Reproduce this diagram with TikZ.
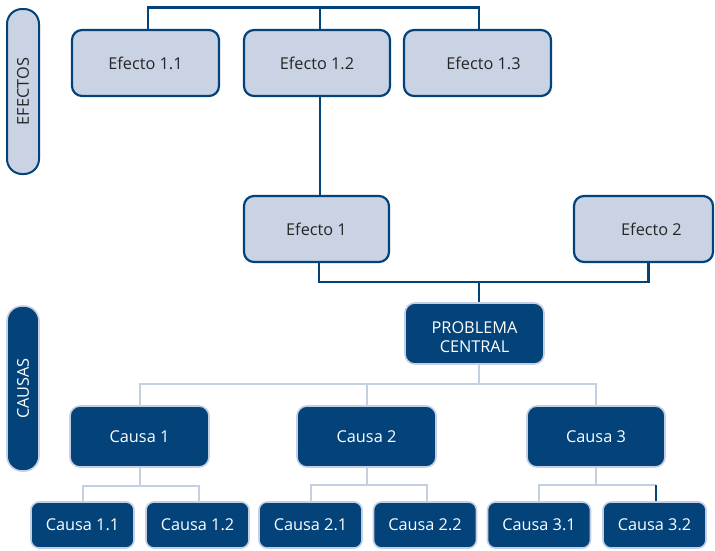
\documentclass[tikz,border=0pt]{standalone}
\usepackage{fontspec}
\setmainfont{Open Sans}
\usetikzlibrary{positioning}
\definecolor{dblue}{HTML}{03437A}
\definecolor{lfill}{HTML}{C9D3E4}
\definecolor{lline}{HTML}{C5CFE3}
\definecolor{dtext}{HTML}{262626}
\begin{document}
\begin{tikzpicture}[x=1pt,y=-1pt,
  txt/.style={font=\fontsize{16.3}{19}\selectfont},
  efbox/.style={txt,draw=dblue,line width=2.2pt,fill=lfill,rounded corners=10pt,text=dtext,inner sep=0pt,minimum height=66pt},
  cbox/.style={txt,draw=lline,line width=1.6pt,fill=dblue,rounded corners=10pt,text=white,inner sep=0pt,minimum width=139pt,minimum height=61pt},
  csub/.style={txt,draw=lline,line width=1.6pt,fill=dblue,rounded corners=8pt,text=white,inner sep=0pt,minimum width=103pt,minimum height=46pt},
  sidebar/.style={rounded corners=15pt,minimum width=32pt,minimum height=165pt,inner sep=0pt},
  dline/.style={draw=dblue,line width=2.4pt},
  lconn/.style={draw=lline,line width=2pt}]
\useasboundingbox (0,0) rectangle (715,550);
% side bars
\node[sidebar,draw=dblue,line width=2pt,fill=lfill] (ef) at (23,91.5) {};
\node[txt,rotate=90,text=dtext] (eft) at (ef.center) {EFECTOS};
\node[sidebar,draw=lline,line width=1.6pt,fill=dblue] (ca) at (23,388.5) {};
\node[txt,rotate=90,text=white] (cat) at (ca.center) {CAUSAS};
% effects
\node[efbox,minimum width=147pt] (e11) at (145.5,63) {Efecto 1.1};
\node[efbox,minimum width=146pt] (e12) at (317,63) {Efecto 1.2};
\node[efbox,minimum width=147pt] (e13) at (477.5,63) {\hspace{12pt}Efecto 1.3};
\node[efbox,minimum width=145pt] (e1) at (316.5,229) {Efecto 1};
\node[efbox,minimum width=139pt] (e2) at (643.5,229) {\hspace{16pt}Efecto 2};
% central problem
\node[cbox,align=center] (pc) at (474.5,333.5) {\rule{0pt}{20pt}PROBLEMA\\CENTRAL};
% causes
\node[cbox] (c1) at (139.5,436.5) {Causa 1};
\node[cbox] (c2) at (366.5,436.5) {Causa 2};
\node[cbox,minimum width=138pt] (c3) at (596,436.5) {Causa 3};
\node[csub] (c11) at (82.5,525) {Causa 1.1};
\node[csub] (c12) at (197.5,525) {Causa 1.2};
\node[csub] (c21) at (310.5,525) {Causa 2.1};
\node[csub] (c22) at (425,525) {Causa 2.2};
\node[csub] (c31) at (539,525) {Causa 3.1};
\node[csub] (c32) at (654.5,525) {Causa 3.2};
% coordinates for bus lines
\coordinate (topbus) at (320,7.5);
\coordinate (midbus) at (479,282);
\coordinate (cbus) at (479,384);
\coordinate (s1) at (140,486);
\coordinate (s2) at (368,485);
\coordinate (s3) at (597,485);
% effect connectors
\draw[dline] ([xshift=2.5pt]e11.north) |- (topbus) -| ([xshift=1.5pt]e13.north);
\draw[dline] ([xshift=3pt]e12.north) -- ([xshift=3pt]e12.north |- topbus);
\draw[dline] ([xshift=3pt]e12.south) -- ([xshift=3pt]e12.south |- e1.north);
\draw[dline] ([xshift=2.5pt]e1.south) |- (midbus) -| ([xshift=5pt]e2.south);
\draw[dline] ([xshift=4.5pt]pc.north) -- ([xshift=4.5pt]pc.north |- midbus);
% cause connectors
\draw[lconn] ([xshift=4pt]pc.south) -- ([xshift=4pt]pc.south |- cbus);
\draw[lconn] (c1.north) |- (cbus) -| (c3.north);
\draw[lconn] (c2.north) -- (c2.north |- cbus);
\draw[lconn] (c1.south) -- (c1.south |- s1);
\draw[lconn] (c11.north) |- (s1) -| ([xshift=1.5pt]c12.north);
\draw[lconn] (c2.south) -- (c2.south |- s2);
\draw[lconn] (c21.north) |- (s2) -| ([xshift=2pt]c22.north);
\draw[lconn] (c3.south) -- (c3.south |- s3);
\draw[lconn] (c31.north) |- (s3) -- ([xshift=1.5pt]c32.north |- s3);
\draw[dblue,line width=2pt] ([xshift=1.5pt]c32.north |- s3) -- ([xshift=1.5pt]c32.north);
\end{tikzpicture}
\end{document}
